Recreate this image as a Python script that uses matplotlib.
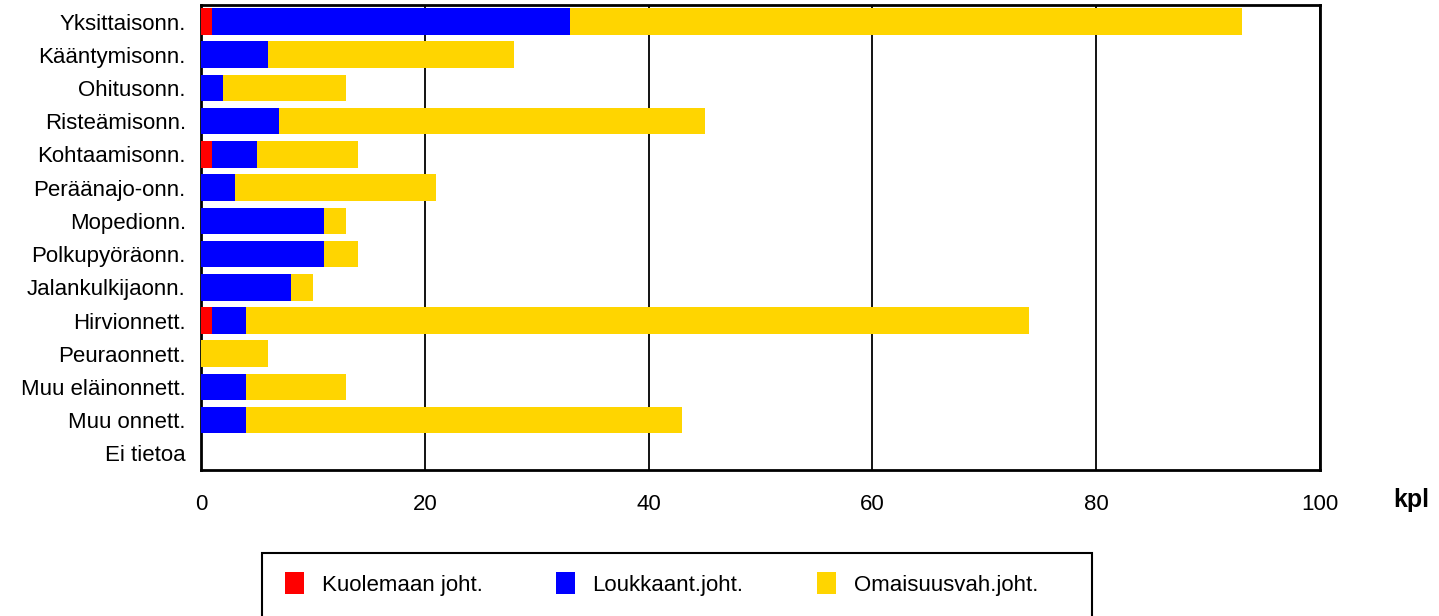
import numpy as np
import matplotlib.pyplot as plt
from matplotlib.patches import Patch, Rectangle

plt.rcParams['font.family'] = ['Liberation Sans', 'DejaVu Sans']

# Onnettomuusluokat
categories = ['Yksittaisonn.', 'Kääntymisonn.', 'Ohitusonn.', 'Risteämisonn.',
              'Kohtaamisonn.', 'Peräänajo-onn.', 'Mopedionn.', 'Polkupyöräonn.',
              'Jalankulkijaonn.', 'Hirvionnett.', 'Peuraonnett.', 'Muu eläinonnett.',
              'Muu onnett.', 'Ei tietoa']
kuolema = [1, 0, 0, 0, 1, 0, 0, 0, 0, 1, 0, 0, 0, 0]
loukkaantuminen = [32, 6, 2, 7, 4, 3, 11, 11, 8, 3, 0, 4, 4, 0]
omaisuusvahinko = [60, 22, 11, 38, 9, 18, 2, 3, 2, 70, 6, 9, 39, 0]

series_names = ['Kuolemaan joht.', 'Loukkaant.joht.', 'Omaisuusvah.joht.']
colors = ['#ff0000', '#0000ff', '#ffd500']
xticks = [0, 20, 40, 60, 80, 100]

fig = plt.figure(figsize=(14.39, 6.16), dpi=100)
ax = fig.add_axes([0.1397, 0.237, 0.7776, 0.755])

y = np.arange(len(categories))
left = np.zeros(len(categories))
for vals, c in zip([kuolema, loukkaantuminen, omaisuusvahinko], colors):
    ax.barh(y, vals, left=left, height=0.8, color=c, zorder=3)
    left += np.array(vals)

ax.set_xlim(0, 100)
ax.set_ylim(len(categories) - 0.5, -0.5)
ax.set_yticks(y)
ax.set_yticklabels(categories, fontsize=16)
ax.set_xticks(xticks)
ax.set_xticklabels([str(t) for t in xticks], fontsize=16)
ax.tick_params(axis='y', length=0, pad=11)
ax.tick_params(axis='x', length=0, pad=17)
ax.xaxis.grid(True, color='black', linewidth=1.3, zorder=1)
for s in ax.spines.values():
    s.set_linewidth(2)
    s.set_color('black')

fig.text(1393 / 1439, 1 - 500 / 616, 'kpl', fontsize=18, fontweight='bold',
         va='center', ha='left')

# legendan kehys erikseen
top = 1 - 553 / 616
fig.patches.append(Rectangle((262 / 1439, -0.05), 830 / 1439, top + 0.05,
                             transform=fig.transFigure, fill=False,
                             edgecolor='black', linewidth=1.5))

handles = [Patch(facecolor=c, edgecolor='none') for c in colors]
leg = fig.legend(handles, series_names, ncol=3, loc='center left',
                 bbox_to_anchor=(285 / 1439, 1 - 584 / 616),
                 frameon=False, fontsize=16,
                 handlelength=0.85, handleheight=1.1, borderpad=0,
                 borderaxespad=0, columnspacing=3.3, handletextpad=0.8)

fig.savefig('out.png', dpi=100)
